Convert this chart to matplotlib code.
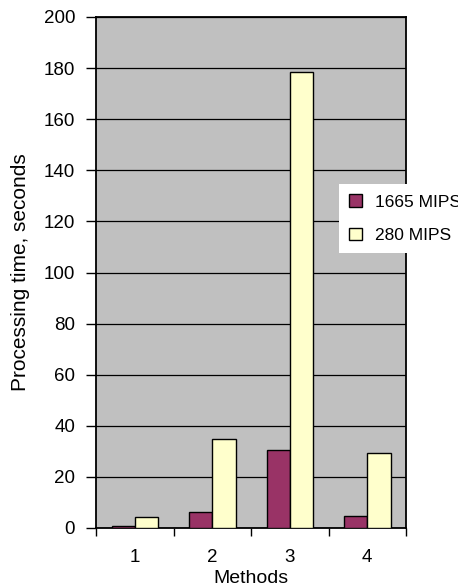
import numpy as np
import matplotlib.pyplot as plt

methods = ['1', '2', '3', '4']
mips_1665 = [0.8, 6.1, 30.5, 4.8]
mips_280 = [4.2, 34.8, 178.5, 29.4]

plt.rcParams['font.family'] = 'Liberation Sans'
plt.rcParams['font.size'] = 13.5

fig = plt.figure(figsize=(4.58, 5.86), dpi=100)
ax = fig.add_axes([96 / 458, 1 - 528 / 586, 310 / 458, 511 / 586])
ax.set_facecolor('#c0c0c0')

x = np.arange(1, len(methods) + 1)
w = 0.3
ax.bar(x - w / 2, mips_1665, w, color='#993366', edgecolor='black', linewidth=1,
       label='1665 MIPS', zorder=3)
ax.bar(x + w / 2, mips_280, w, color='#ffffcc', edgecolor='black', linewidth=1,
       label='280 MIPS', zorder=3)

ax.set_xlim(0.5, 4.5)
ax.set_ylim(0, 200)
ax.set_yticks(range(0, 201, 20))
ax.yaxis.grid(True, color='black', linewidth=0.9, zorder=1)
ax.set_axisbelow(True)

# labels sit at the centres, tick marks at the category boundaries
ax.set_xticks(x)
ax.set_xticklabels(methods)
ax.set_xticks(np.arange(0.5, 4.6, 1), minor=True)
ax.tick_params(axis='x', which='major', length=0, pad=15)
ax.tick_params(axis='x', which='minor', length=6, width=1)
ax.tick_params(axis='y', length=7, width=1, pad=8)

for s in ax.spines.values():
    s.set_linewidth(1.3)

ax.set_xlabel('Methods', fontsize=14, labelpad=3)
ax.set_ylabel('Processing time, seconds', fontsize=15, labelpad=10)

leg = ax.legend(loc='upper left', bbox_to_anchor=(339 / 458, 1 - 184 / 586),
                bbox_transform=fig.transFigure, frameon=True, fancybox=False,
                edgecolor='none', facecolor='white', framealpha=1,
                fontsize=12.5,
                handlelength=0.7, handleheight=0.7, handletextpad=0.8,
                labelspacing=1.05, borderpad=0.6, borderaxespad=0)

fig.savefig('out.png', dpi=100)
